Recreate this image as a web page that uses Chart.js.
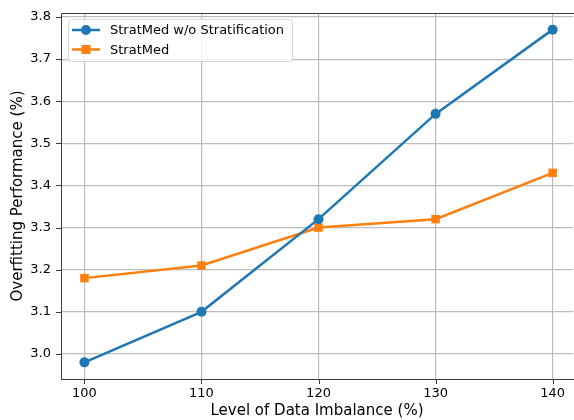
<!DOCTYPE html>
<html>
<head>
<meta charset="utf-8">
<script src="https://cdn.jsdelivr.net/npm/chart.js@4"></script>
<style>
  html, body { margin: 0; padding: 0; background: #fff; overflow: hidden; }
  #wrap { width: 579px; height: 420px; }
</style>
</head>
<body>
<div id="wrap"><canvas id="chart" width="579" height="420"></canvas></div>
<script>
// data
const imbalanceLevels = [100, 110, 120, 130, 140];
const noStratValues = [2.98, 3.10, 3.32, 3.57, 3.77];
const stratMedValues = [3.18, 3.21, 3.30, 3.32, 3.43];
const xTicks = [100, 110, 120, 130, 140];
const yTicks = [3.0, 3.1, 3.2, 3.3, 3.4, 3.5, 3.6, 3.7, 3.8];

const FONT = 'DejaVu Sans';
const BLUE = '#1f77b4';
const ORANGE = '#ff7f0e';

function noScalePadding(scale) {
    scale.paddingTop = 0;
    scale.paddingBottom = 0;
    scale.paddingLeft = 0;
    scale.paddingRight = 0;
}

// spines (the right one is cut off by the figure), tick marks and the legend
const framePlugin = {
    id: 'frame',
    afterDatasetsDraw(chart) {
        const ctx = chart.ctx;
        const a = chart.chartArea;
        const xs = chart.scales.x;
        const ys = chart.scales.y;
        ctx.save();
        ctx.strokeStyle = '#3a3a3a';
        ctx.lineWidth = 1;
        ctx.beginPath();
        ctx.moveTo(a.right + 4, a.top + 0.5);
        ctx.lineTo(a.left + 0.5, a.top + 0.5);
        ctx.lineTo(a.left + 0.5, a.bottom + 0.5);
        ctx.lineTo(a.right + 4, a.bottom + 0.5);
        ctx.stroke();
        // tick marks
        ctx.beginPath();
        xTicks.forEach(v => {
            const px = Math.round(xs.getPixelForValue(v)) + 0.5;
            ctx.moveTo(px, a.bottom);
            ctx.lineTo(px, a.bottom + 5);
        });
        yTicks.forEach(v => {
            const py = Math.round(ys.getPixelForValue(v)) + 0.5;
            ctx.moveTo(a.left, py);
            ctx.lineTo(a.left - 5, py);
        });
        ctx.stroke();

        // legend
        const lx = 68.5, ly = 19.5, lw = 224, lh = 42, r = 3;
        ctx.beginPath();
        ctx.moveTo(lx + r, ly);
        ctx.arcTo(lx + lw, ly, lx + lw, ly + lh, r);
        ctx.arcTo(lx + lw, ly + lh, lx, ly + lh, r);
        ctx.arcTo(lx, ly + lh, lx, ly, r);
        ctx.arcTo(lx, ly, lx + lw, ly, r);
        ctx.closePath();
        ctx.fillStyle = 'rgba(255,255,255,0.8)';
        ctx.fill();
        ctx.strokeStyle = '#d6d6d6';
        ctx.lineWidth = 1;
        ctx.stroke();

        const entries = [
            { label: 'StratMed w/o Stratification', color: BLUE, shape: 'circle', y: 30 },
            { label: 'StratMed', color: ORANGE, shape: 'square', y: 49.5 }
        ];
        ctx.font = '13px "' + FONT + '"';
        ctx.textBaseline = 'middle';
        entries.forEach(e => {
            ctx.strokeStyle = e.color;
            ctx.fillStyle = e.color;
            ctx.lineWidth = 2.5;
            ctx.beginPath();
            ctx.moveTo(72, e.y);
            ctx.lineTo(100, e.y);
            ctx.stroke();
            ctx.beginPath();
            if (e.shape === 'circle') {
                ctx.arc(86, e.y, 5, 0, Math.PI * 2);
            } else {
                ctx.rect(81.5, e.y - 4.5, 9, 9);
            }
            ctx.fill();
            ctx.fillStyle = '#000';
            ctx.fillText(e.label, 110, e.y + 1);
        });
        ctx.restore();
    }
};

new Chart(document.getElementById('chart'), {
    type: 'line',
    data: {
        datasets: [
            {
                label: 'StratMed w/o Stratification',
                data: imbalanceLevels.map((x, i) => ({ x: x, y: noStratValues[i] })),
                borderColor: BLUE,
                backgroundColor: BLUE,
                borderWidth: 2.5,
                pointStyle: 'circle',
                pointRadius: 5,
                pointBorderWidth: 0,
                tension: 0
            },
            {
                label: 'StratMed',
                data: imbalanceLevels.map((x, i) => ({ x: x, y: stratMedValues[i] })),
                borderColor: ORANGE,
                backgroundColor: ORANGE,
                borderWidth: 2.5,
                pointStyle: 'rect',
                pointRadius: 6,
                pointBorderWidth: 0,
                tension: 0
            }
        ]
    },
    options: {
        responsive: false,
        devicePixelRatio: 1,
        animation: false,
        layout: { padding: { top: 13, right: 0, left: 0, bottom: 0 } },
        plugins: {
            legend: { display: false },
            tooltip: { enabled: false }
        },
        scales: {
            x: {
                type: 'linear',
                min: 98,
                max: 141.74,
                afterBuildTicks: scale => { scale.ticks = xTicks.map(v => ({ value: v })); },
                afterFit: scale => { scale.height = 41; noScalePadding(scale); },
                grid: { color: '#bdbdbd', lineWidth: 1.2, drawTicks: false },
                border: { display: false },
                ticks: {
                    padding: 7,
                    color: '#000',
                    font: { family: FONT, size: 13 },
                    callback: v => String(v)
                },
                title: {
                    display: true,
                    text: 'Level of Data Imbalance (%)',
                    color: '#000',
                    font: { family: FONT, size: 15 },
                    padding: { top: 0, bottom: 0 }
                }
            },
            y: {
                type: 'linear',
                min: 2.9405,
                max: 3.8095,
                afterBuildTicks: scale => { scale.ticks = yTicks.map(v => ({ value: v })); },
                afterFit: scale => { scale.width = 61; noScalePadding(scale); },
                grid: { color: '#bdbdbd', lineWidth: 1.2, drawTicks: false },
                border: { display: false },
                ticks: {
                    padding: 10,
                    color: '#000',
                    font: { family: FONT, size: 13 },
                    callback: v => v.toFixed(1)
                },
                title: {
                    display: true,
                    text: 'Overfitting Performance (%)',
                    color: '#000',
                    font: { family: FONT, size: 15 },
                    padding: { top: 9, bottom: 0 }
                }
            }
        }
    },
    plugins: [framePlugin]
});
</script>
</body>
</html>
